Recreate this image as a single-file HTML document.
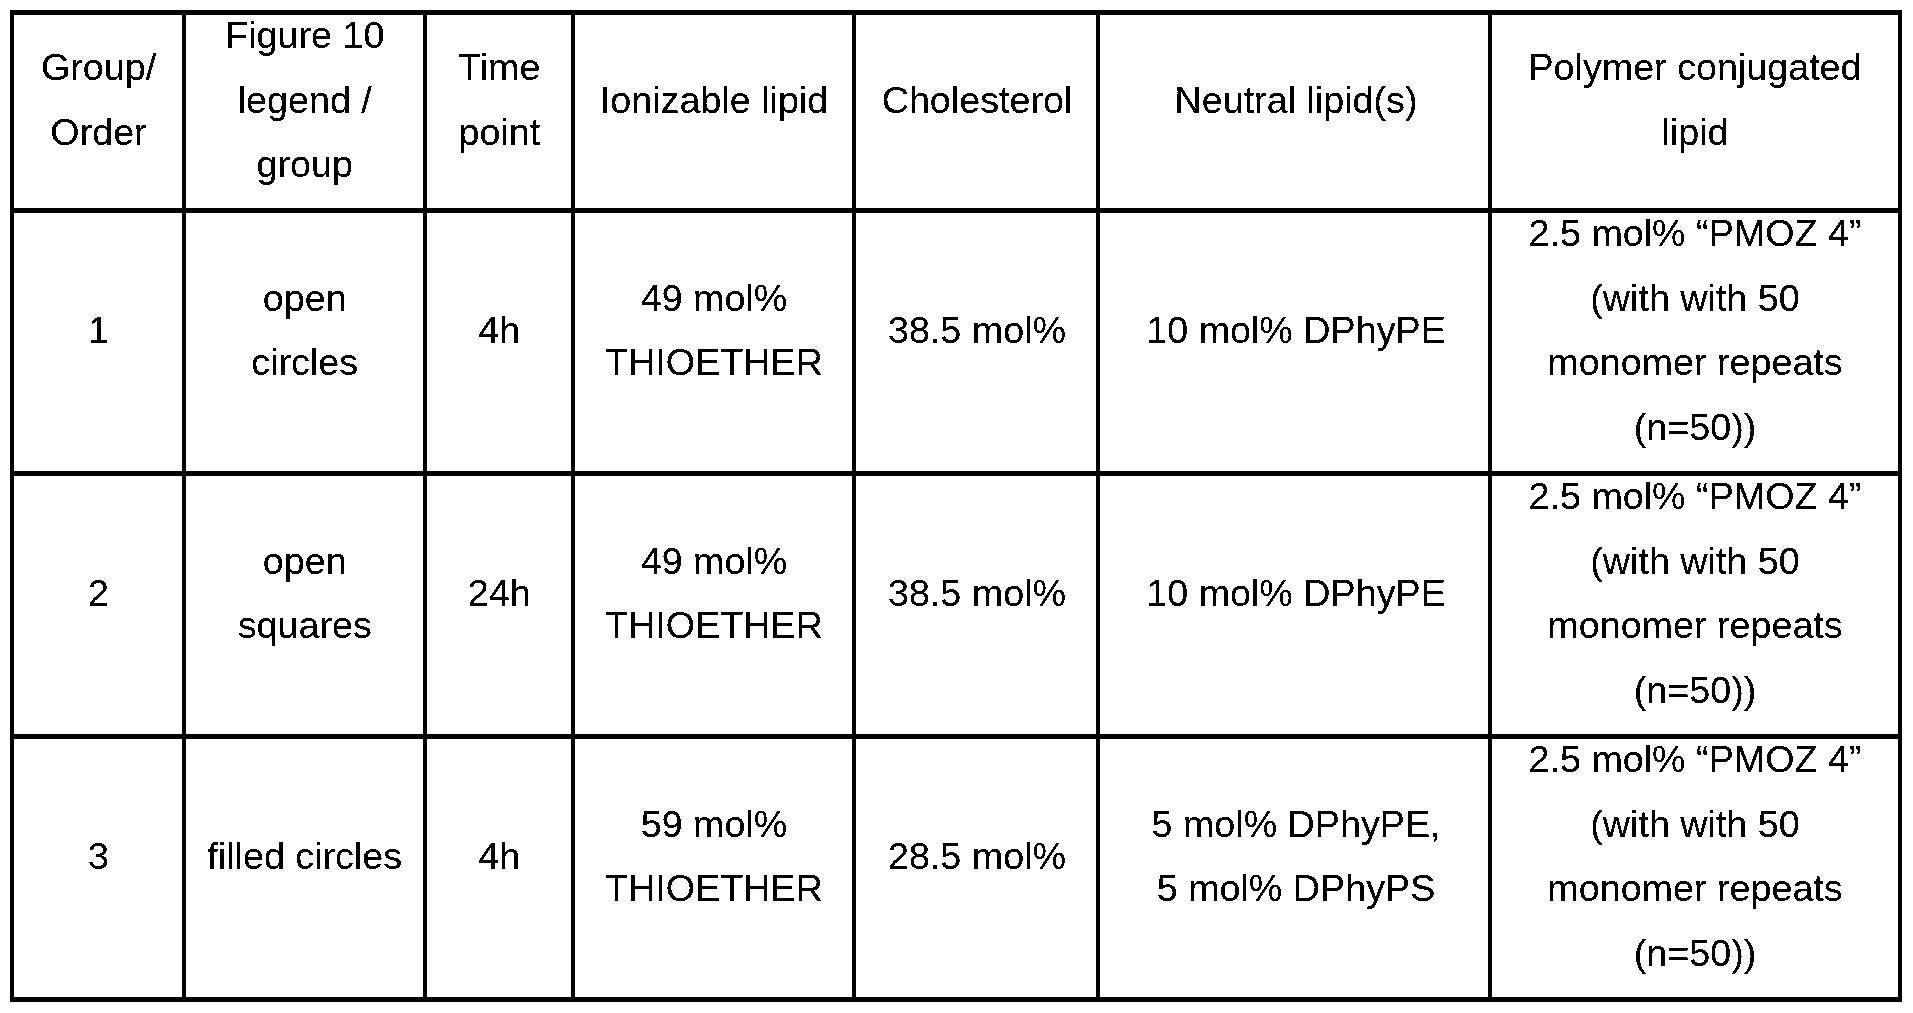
<!DOCTYPE html>
<html lang="en">
<head>
<meta charset="utf-8">
<title>Table</title>
<style>
html,body{margin:0;padding:0;background:#fff;}
body{width:1913px;height:1013px;position:relative;overflow:hidden;font-family:"Liberation Sans",sans-serif;}
.ln{position:absolute;background:#000;}
.t{position:absolute;height:44px;line-height:44px;font-size:37.7px;color:#000;text-align:center;white-space:nowrap;}
#txt{position:absolute;left:0;top:0;width:1913px;height:1013px;filter:url(#bw);}
</style>
</head>
<body>
<svg width="0" height="0" style="position:absolute"><defs><filter id="bw" x="0" y="0" width="100%" height="100%" color-interpolation-filters="sRGB"><feComponentTransfer><feFuncA type="discrete" tableValues="0 0 1 1 1"/></feComponentTransfer></filter></defs></svg>
<div class="ln" style="left:10px;top:10px;width:4px;height:992px"></div>
<div class="ln" style="left:182px;top:10px;width:4px;height:992px"></div>
<div class="ln" style="left:423px;top:10px;width:4px;height:992px"></div>
<div class="ln" style="left:571px;top:10px;width:4px;height:992px"></div>
<div class="ln" style="left:852px;top:10px;width:4px;height:992px"></div>
<div class="ln" style="left:1096px;top:10px;width:4px;height:992px"></div>
<div class="ln" style="left:1488px;top:10px;width:4px;height:992px"></div>
<div class="ln" style="left:1898px;top:10px;width:4px;height:992px"></div>
<div class="ln" style="left:10px;top:10px;width:1892px;height:5px"></div>
<div class="ln" style="left:10px;top:208px;width:1892px;height:5px"></div>
<div class="ln" style="left:10px;top:471px;width:1892px;height:5px"></div>
<div class="ln" style="left:10px;top:734px;width:1892px;height:5px"></div>
<div class="ln" style="left:10px;top:997px;width:1892px;height:5px"></div>
<div id="txt">
<div class="t" style="left:14.5px;width:168px;top:44.94px">Group/</div>
<div class="t" style="left:14.5px;width:168px;top:109.94px">Order</div>
<div class="t" style="left:186.25px;width:237px;top:12.94px">Figure 10</div>
<div class="t" style="left:186.25px;width:237px;top:77.94px">legend /</div>
<div class="t" style="left:186.25px;width:237px;top:141.94px">group</div>
<div class="t" style="left:427.3px;width:144px;top:44.94px">Time</div>
<div class="t" style="left:427.3px;width:144px;top:109.94px">point</div>
<div class="t" style="left:575.5px;width:277px;top:77.94px">Ionizable lipid</div>
<div class="t" style="left:857px;width:240px;top:77.94px">Cholesterol</div>
<div class="t" style="left:1102px;width:388px;top:77.94px">Neutral lipid(s)</div>
<div class="t" style="left:1492px;width:406px;top:44.94px">Polymer conjugated</div>
<div class="t" style="left:1492px;width:406px;top:109.94px">lipid</div>
<div class="t" style="left:14.5px;width:168px;top:307.94px">1</div>
<div class="t" style="left:186.25px;width:237px;top:275.94px">open</div>
<div class="t" style="left:186.25px;width:237px;top:339.94px">circles</div>
<div class="t" style="left:427.3px;width:144px;top:307.94px">4h</div>
<div class="t" style="left:575.5px;width:277px;top:275.94px">49 mol%</div>
<div class="t" style="left:575.5px;width:277px;top:339.94px">THIOETHER</div>
<div class="t" style="left:857px;width:240px;top:307.94px">38.5 mol%</div>
<div class="t" style="left:1102px;width:388px;top:307.94px">10 mol% DPhyPE</div>
<div class="t" style="left:1492px;width:406px;top:210.94px">2.5 mol% “PMOZ 4”</div>
<div class="t" style="left:1492px;width:406px;top:275.94px">(with with 50</div>
<div class="t" style="left:1492px;width:406px;top:339.94px">monomer repeats</div>
<div class="t" style="left:1492px;width:406px;top:404.94px">(n=50))</div>
<div class="t" style="left:14.5px;width:168px;top:570.94px">2</div>
<div class="t" style="left:186.25px;width:237px;top:538.94px">open</div>
<div class="t" style="left:186.25px;width:237px;top:602.94px">squares</div>
<div class="t" style="left:427.3px;width:144px;top:570.94px">24h</div>
<div class="t" style="left:575.5px;width:277px;top:538.94px">49 mol%</div>
<div class="t" style="left:575.5px;width:277px;top:602.94px">THIOETHER</div>
<div class="t" style="left:857px;width:240px;top:570.94px">38.5 mol%</div>
<div class="t" style="left:1102px;width:388px;top:570.94px">10 mol% DPhyPE</div>
<div class="t" style="left:1492px;width:406px;top:473.94px">2.5 mol% “PMOZ 4”</div>
<div class="t" style="left:1492px;width:406px;top:538.94px">(with with 50</div>
<div class="t" style="left:1492px;width:406px;top:602.94px">monomer repeats</div>
<div class="t" style="left:1492px;width:406px;top:667.94px">(n=50))</div>
<div class="t" style="left:14.5px;width:168px;top:833.94px">3</div>
<div class="t" style="left:186.25px;width:237px;top:833.94px">filled circles</div>
<div class="t" style="left:427.3px;width:144px;top:833.94px">4h</div>
<div class="t" style="left:575.5px;width:277px;top:801.94px">59 mol%</div>
<div class="t" style="left:575.5px;width:277px;top:865.94px">THIOETHER</div>
<div class="t" style="left:857px;width:240px;top:833.94px">28.5 mol%</div>
<div class="t" style="left:1102px;width:388px;top:801.94px">5 mol% DPhyPE,</div>
<div class="t" style="left:1102px;width:388px;top:865.94px">5 mol% DPhyPS</div>
<div class="t" style="left:1492px;width:406px;top:736.94px">2.5 mol% “PMOZ 4”</div>
<div class="t" style="left:1492px;width:406px;top:801.94px">(with with 50</div>
<div class="t" style="left:1492px;width:406px;top:865.94px">monomer repeats</div>
<div class="t" style="left:1492px;width:406px;top:930.94px">(n=50))</div>
</div>
</body>
</html>
